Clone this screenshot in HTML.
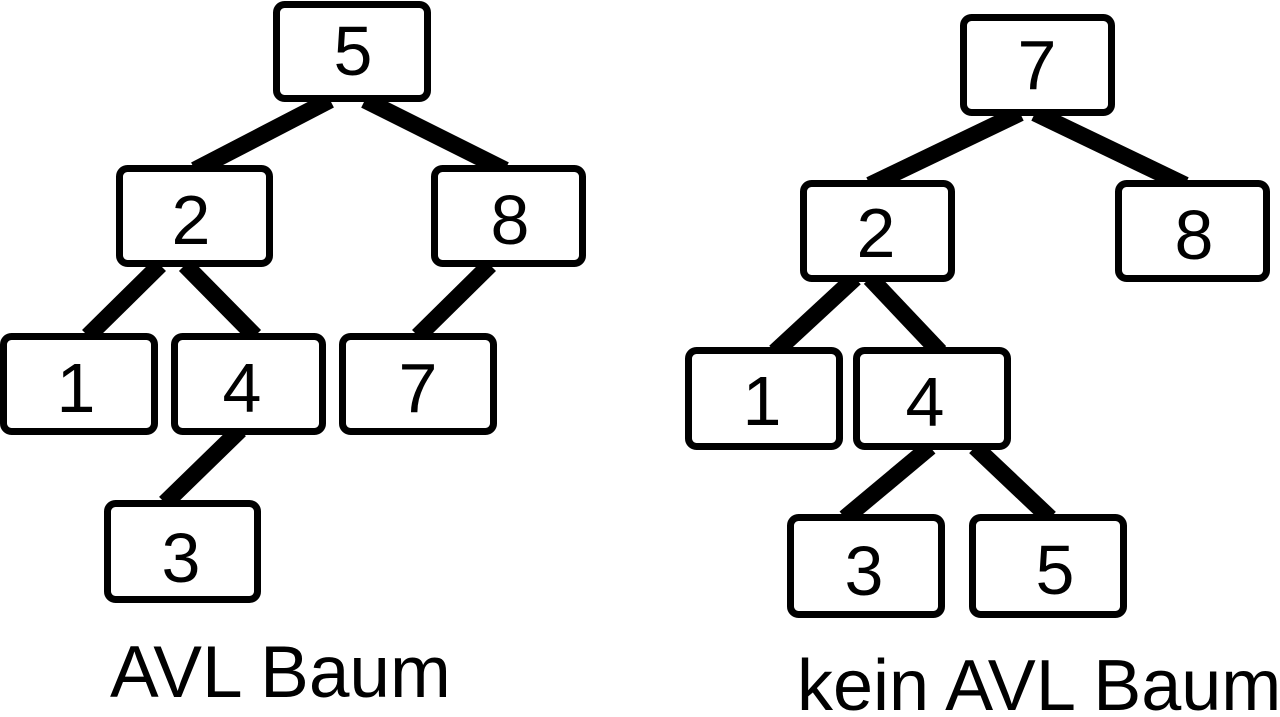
<!DOCTYPE html>
<html><head><style>html,body{margin:0;padding:0;background:#fff;}</style></head>
<body>
<svg width="1280" height="712" viewBox="0 0 1280 712" xmlns="http://www.w3.org/2000/svg" font-family="Liberation Sans, Arial, sans-serif">
<g stroke="#000" stroke-width="17" stroke-linecap="butt">
<line x1="330" y1="100" x2="195" y2="170"/>
<line x1="365" y1="100" x2="505" y2="170"/>
<line x1="160" y1="265" x2="88" y2="336"/>
<line x1="185" y1="265" x2="255" y2="336"/>
<line x1="490" y1="265" x2="418" y2="336"/>
<line x1="240" y1="430" x2="165" y2="503"/>
<line x1="1020" y1="113" x2="870" y2="185"/>
<line x1="1035" y1="113" x2="1185" y2="185"/>
<line x1="855" y1="278" x2="775" y2="352"/>
<line x1="870" y1="278" x2="940" y2="352"/>
<line x1="930" y1="447" x2="845" y2="518"/>
<line x1="975" y1="447" x2="1050" y2="518"/>
</g>
<g fill="#fff" stroke="#000" stroke-width="7">
<rect x="276.5" y="4.5" width="151" height="94" rx="8"/>
<rect x="119.5" y="168.5" width="150" height="95" rx="8"/>
<rect x="434.5" y="168.5" width="148" height="95" rx="8"/>
<rect x="3.5" y="336.5" width="151" height="95" rx="8"/>
<rect x="174.5" y="336.5" width="148" height="95" rx="8"/>
<rect x="342.5" y="336.5" width="151" height="95" rx="8"/>
<rect x="107.5" y="503.5" width="150" height="96" rx="8"/>
<rect x="963.5" y="17.5" width="148" height="95" rx="8"/>
<rect x="803.5" y="183.5" width="148" height="95" rx="8"/>
<rect x="1118.5" y="183.5" width="148" height="95" rx="8"/>
<rect x="688.5" y="350.5" width="151" height="96" rx="8"/>
<rect x="856.5" y="350.5" width="151" height="96" rx="8"/>
<rect x="790.5" y="517.5" width="151" height="97" rx="8"/>
<rect x="972.5" y="517.5" width="151" height="97" rx="8"/>
</g>
<g font-size="70" text-anchor="middle" fill="#000">
<text x="353" y="75">5</text>
<text x="191" y="244">2</text>
<text x="510" y="244">8</text>
<text x="76" y="412">1</text>
<text x="242" y="412">4</text>
<text x="418" y="412">7</text>
<text x="181" y="582">3</text>
<text x="1037" y="89">7</text>
<text x="876" y="257">2</text>
<text x="1194" y="259">8</text>
<text x="762" y="425">1</text>
<text x="925" y="426">4</text>
<text x="864" y="595">3</text>
<text x="1055" y="594">5</text>
</g>
<text x="110" y="697" font-size="73" fill="#000">AVL Baum</text>
<text x="797" y="710" font-size="72" fill="#000">kein AVL Baum</text>
</svg>
</body></html>
